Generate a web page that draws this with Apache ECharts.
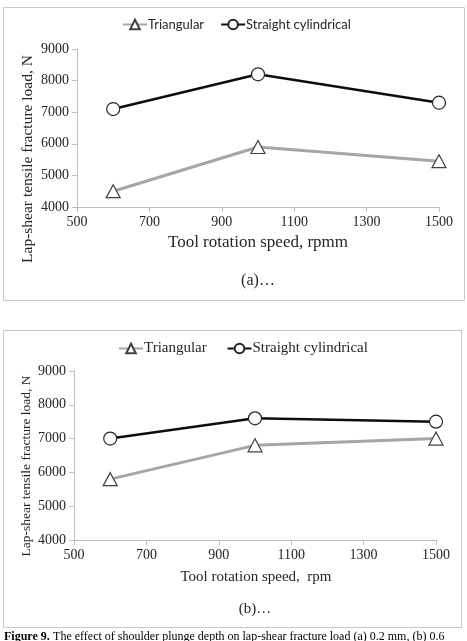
<!DOCTYPE html>
<html>
<head>
<meta charset="utf-8">
<script src="https://cdn.jsdelivr.net/npm/echarts@6/dist/echarts.min.js"></script>
<style>
html,body{margin:0;padding:0;background:#fff;}
#c{width:467px;height:641px;}
</style>
</head>
<body>
<div id="c"></div>
<script>
const speeds = [600, 1000, 1500];
const triangularA = [4500, 5900, 5450];
const cylindricalA = [7100, 8200, 7300];
const triangularB = [5800, 6800, 7000];
const cylindricalB = [7000, 7600, 7500];
const seriesNames = ['Triangular', 'Straight cylindrical'];
const yTitle = 'Lap-shear tensile fracture load, N';
const xTitleA = 'Tool rotation speed, rpmm';
const xTitleB = 'Tool rotation speed,  rpm';
const panelLabels = ['(a)\u2026', '(b)\u2026'];
const caption = 'The effect of shoulder plunge depth on lap-shear fracture load (a) 0.2 mm, (b) 0.6';

const serif = '"Liberation Serif", "Times New Roman", serif';
const axisCol = '#bfbfbf';
const txtCol = '#262626';

function pts(vals){ return speeds.map((x,i)=>[x, vals[i]]); }
const plain = v => String(v);

function xAxis(gi, fs){
  return {type:'value', gridIndex:gi, min:500, max:1500, interval:200,
    axisLine:{lineStyle:{color:axisCol, width:1}},
    axisTick:{show:true, length:5, lineStyle:{color:axisCol}},
    splitLine:{show:false},
    axisLabel:{fontFamily:serif, fontSize:fs, color:txtCol, margin:8, formatter:plain}};
}
function yAxis(gi, fs){
  return {type:'value', gridIndex:gi, min:4000, max:9000, interval:1000,
    axisLine:{show:true, lineStyle:{color:axisCol, width:1}},
    axisTick:{show:true, length:5, lineStyle:{color:axisCol}},
    splitLine:{show:false},
    axisLabel:{fontFamily:serif, fontSize:fs, color:txtCol, margin:8, formatter:plain}};
}
function triSeries(name, vals, idx){
  return {name:name, type:'line', xAxisIndex:idx, yAxisIndex:idx, data:pts(vals),
    symbol:'triangle', symbolSize:[14,13],
    lineStyle:{color:'#a6a6a6', width:3},
    itemStyle:{color:'#ffffff', borderColor:'#404040', borderWidth:1.2},
    z:3};
}
function cylSeries(name, vals, idx){
  return {name:name, type:'line', xAxisIndex:idx, yAxisIndex:idx, data:pts(vals),
    symbol:'circle', symbolSize:13,
    lineStyle:{color:'#0d0d0d', width:2.5},
    itemStyle:{color:'#ffffff', borderColor:'#262626', borderWidth:1.2},
    z:4};
}

const chart = echarts.init(document.getElementById('c'), null, {renderer:'canvas'});
const option = {
  backgroundColor:'#ffffff',
  animation:false,
  grid:[
    {left:77, right:28, top:49, bottom:434},
    {left:74, right:31, top:371, bottom:101}
  ],
  xAxis:[xAxis(0,14), xAxis(1,14)],
  yAxis:[yAxis(0,14), yAxis(1,14)],
  legend:[
    {left:117, top:13, itemWidth:24, itemHeight:12, itemGap:16,
      data:[seriesNames[0], seriesNames[1]].map(n=>({name:n})),
      textStyle:{fontFamily:'Lato, "Open Sans", sans-serif', fontSize:13, color:txtCol, padding:[0,0,0,-4]}},
    {left:113, top:336, itemWidth:24, itemHeight:12, itemGap:16,
      data:[seriesNames[0], seriesNames[1]].map(n=>({name:n+' '})),
      textStyle:{fontFamily:serif, fontSize:15, color:txtCol, padding:[0,0,0,-4]}}
  ],
  series:[
    triSeries(seriesNames[0], triangularA, 0),
    cylSeries(seriesNames[1], cylindricalA, 0),
    triSeries(seriesNames[0]+' ', triangularB, 1),
    cylSeries(seriesNames[1]+' ', cylindricalB, 1)
  ],
  graphic:[
    {type:'rect', shape:{x:3.5, y:7.5, width:461, height:293}, style:{fill:'none', stroke:'#c8c8c8', lineWidth:1}, silent:true},
    {type:'rect', shape:{x:3.5, y:330.5, width:458, height:297}, style:{fill:'none', stroke:'#c8c8c8', lineWidth:1}, silent:true},
    {type:'text', x:28, y:159, rotation:Math.PI/2, style:{text:yTitle, font:'15.5px '+serif, fill:txtCol, align:'center', verticalAlign:'middle'}},
    {type:'text', x:258, y:243, style:{text:xTitleA, font:'17px '+serif, fill:txtCol, align:'center', verticalAlign:'middle'}},
    {type:'text', x:258, y:281, style:{text:panelLabels[0], font:'16px '+serif, fill:txtCol, align:'center', verticalAlign:'middle'}},
    {type:'text', x:26, y:466, rotation:Math.PI/2, style:{text:yTitle, font:'13.5px '+serif, fill:txtCol, align:'center', verticalAlign:'middle'}},
    {type:'text', x:256, y:577, style:{text:xTitleB, font:'15px '+serif, fill:txtCol, align:'center', verticalAlign:'middle'}},
    {type:'text', x:255, y:609, style:{text:panelLabels[1], font:'15px '+serif, fill:txtCol, align:'center', verticalAlign:'middle'}},
    {type:'text', x:4, y:631, style:{rich:{b:{font:'bold 12px '+serif, fill:'#000'}, n:{font:'12px '+serif, fill:'#000'}}, text:'{b|Figure 9.} {n|'+caption+'}', verticalAlign:'top', align:'left'}}
  ]
};
chart.setOption(option);
</script>
</body>
</html>
